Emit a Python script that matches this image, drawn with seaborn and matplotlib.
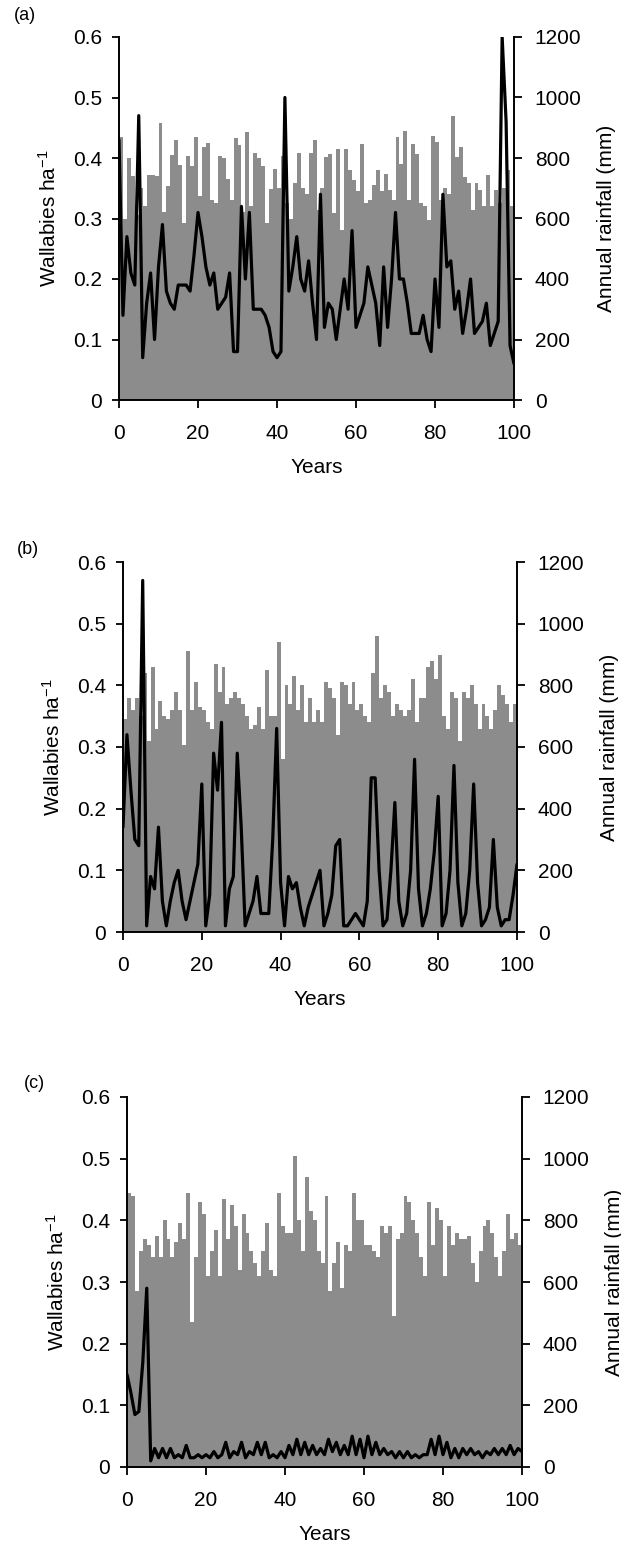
import numpy as np
import pandas as pd
import matplotlib
matplotlib.use("Agg")
import matplotlib.pyplot as plt
from matplotlib.ticker import FuncFormatter
import seaborn as sns

sns.set_style("ticks")
plt.rcParams["font.family"] = ["Liberation Sans", "DejaVu Sans"]
plt.rcParams["mathtext.fontset"] = "custom"
plt.rcParams["mathtext.rm"] = "Liberation Sans"
plt.rcParams["mathtext.it"] = "Liberation Sans"
plt.rcParams["mathtext.default"] = "regular"
for k in ["text.color", "axes.labelcolor", "xtick.color", "ytick.color", "axes.edgecolor"]:
    plt.rcParams[k] = "black"

# ---------------- data ----------------
years_line = list(range(0, 101))
years_rain = list(range(0, 100))

wall_a = [0.43, 0.14, 0.27, 0.21, 0.19, 0.47, 0.07, 0.16, 0.21, 0.10,
          0.22, 0.29, 0.18, 0.16, 0.15, 0.19, 0.19, 0.19, 0.18, 0.24,
          0.31, 0.27, 0.22, 0.19, 0.21, 0.15, 0.16, 0.17, 0.21, 0.08,
          0.08, 0.32, 0.20, 0.31, 0.15, 0.15, 0.15, 0.14, 0.12, 0.08,
          0.07, 0.08, 0.50, 0.18, 0.22, 0.27, 0.20, 0.18, 0.23, 0.16,
          0.10, 0.34, 0.12, 0.16, 0.15, 0.10, 0.15, 0.20, 0.15, 0.28,
          0.12, 0.14, 0.16, 0.22, 0.19, 0.16, 0.09, 0.22, 0.12, 0.20,
          0.31, 0.20, 0.20, 0.16, 0.11, 0.11, 0.11, 0.14, 0.10, 0.08,
          0.20, 0.12, 0.34, 0.22, 0.23, 0.15, 0.18, 0.11, 0.15, 0.20,
          0.11, 0.12, 0.13, 0.16, 0.09, 0.11, 0.13, 0.60, 0.46, 0.09,
          0.06]
rain_a = [870, 600, 800, 740, 610, 700, 640, 745, 745, 740,
          915, 620, 707, 811, 860, 778, 586, 805, 773, 871,
          674, 838, 849, 660, 650, 805, 800, 729, 660, 866,
          844, 620, 887, 640, 816, 800, 773, 586, 696, 762,
          700, 805, 650, 597, 718, 816, 700, 680, 816, 860,
          629, 700, 803, 814, 618, 830, 563, 830, 759, 727,
          690, 846, 651, 660, 710, 759, 690, 748, 694, 660,
          868, 781, 890, 661, 846, 814, 651, 640, 596, 874,
          852, 660, 700, 680, 939, 803, 836, 738, 716, 629,
          716, 694, 640, 743, 640, 694, 650, 700, 760, 640]

wall_b = [0.17, 0.32, 0.23, 0.15, 0.14, 0.57, 0.01, 0.09, 0.07, 0.17,
          0.05, 0.01, 0.05, 0.08, 0.10, 0.05, 0.02, 0.05, 0.08, 0.11,
          0.24, 0.01, 0.06, 0.29, 0.23, 0.34, 0.01, 0.07, 0.09, 0.29,
          0.17, 0.01, 0.03, 0.05, 0.09, 0.03, 0.03, 0.03, 0.15, 0.33,
          0.08, 0.01, 0.09, 0.07, 0.08, 0.04, 0.01, 0.04, 0.06, 0.08,
          0.10, 0.01, 0.03, 0.06, 0.14, 0.15, 0.01, 0.01, 0.02, 0.03,
          0.02, 0.01, 0.05, 0.25, 0.25, 0.10, 0.01, 0.02, 0.10, 0.21,
          0.05, 0.01, 0.03, 0.10, 0.28, 0.07, 0.01, 0.03, 0.07, 0.13,
          0.22, 0.01, 0.03, 0.10, 0.27, 0.08, 0.01, 0.03, 0.10, 0.24,
          0.08, 0.01, 0.02, 0.04, 0.15, 0.04, 0.01, 0.02, 0.02, 0.06,
          0.11]
rain_b = [690, 760, 720, 760, 700, 840, 620, 860, 660, 750,
          700, 690, 720, 780, 720, 605, 910, 720, 810, 730,
          720, 680, 660, 870, 780, 860, 740, 760, 780, 760,
          740, 700, 660, 670, 730, 660, 850, 700, 700, 940,
          560, 800, 740, 830, 720, 800, 680, 760, 680, 720,
          680, 810, 790, 760, 640, 810, 800, 740, 810, 720,
          740, 700, 680, 840, 960, 760, 800, 780, 700, 740,
          720, 700, 720, 820, 680, 760, 760, 860, 880, 820,
          900, 700, 660, 780, 760, 620, 780, 760, 800, 740,
          660, 740, 700, 660, 720, 800, 770, 740, 680, 740]

wall_c = [0.15, 0.12, 0.085, 0.09, 0.17, 0.29, 0.01, 0.03, 0.015, 0.03,
          0.015, 0.03, 0.015, 0.02, 0.015, 0.035, 0.015, 0.015, 0.02, 0.015,
          0.02, 0.015, 0.025, 0.015, 0.02, 0.04, 0.015, 0.025, 0.02, 0.04,
          0.015, 0.025, 0.02, 0.04, 0.02, 0.04, 0.015, 0.02, 0.015, 0.025,
          0.015, 0.035, 0.02, 0.045, 0.02, 0.04, 0.02, 0.035, 0.02, 0.03,
          0.02, 0.045, 0.025, 0.04, 0.02, 0.035, 0.02, 0.05, 0.02, 0.045,
          0.015, 0.05, 0.02, 0.04, 0.02, 0.03, 0.02, 0.025, 0.015, 0.025,
          0.015, 0.025, 0.015, 0.02, 0.015, 0.02, 0.02, 0.045, 0.02, 0.05,
          0.02, 0.04, 0.015, 0.03, 0.015, 0.03, 0.02, 0.03, 0.02, 0.025,
          0.015, 0.025, 0.02, 0.03, 0.02, 0.03, 0.02, 0.035, 0.02, 0.03,
          0.025]
rain_c = [890, 880, 570, 700, 740, 720, 680, 750, 680, 800,
          740, 680, 730, 790, 740, 890, 470, 680, 860, 820,
          620, 700, 770, 620, 870, 740, 850, 780, 640, 820,
          760, 700, 660, 620, 700, 790, 640, 620, 890, 780,
          760, 760, 1010, 800, 700, 940, 830, 800, 700, 660,
          880, 570, 660, 730, 580, 720, 700, 890, 800, 800,
          720, 720, 700, 680, 780, 760, 780, 490, 740, 760,
          880, 860, 800, 760, 680, 620, 860, 720, 840, 800,
          620, 780, 720, 760, 740, 740, 750, 660, 600, 700,
          780, 800, 760, 680, 620, 700, 820, 740, 760, 720]

panel_labels = ["(a)", "(b)", "(c)"]
x_ticks = [0, 20, 40, 60, 80, 100]
left_ticks = [0, 0.1, 0.2, 0.3, 0.4, 0.5, 0.6]
right_ticks = [0, 200, 400, 600, 800, 1000, 1200]

# ---------------- layout (pixels of a 621 x 1550 canvas) ----------------
W, H = 621, 1550
# left, right, top, bottom of each axes; label x, y
boxes = [(119, 514, 37, 400, 25, 15),
         (123, 517, 562, 932, 28, 550),
         (127, 522, 1097, 1467, 34, 1084)]

BAR = "#8c8c8c"
FS = 15

fig = plt.figure(figsize=(W / 100, H / 100), dpi=100)

for lab, wall, rain, (l, r, t, b, lx, ly) in zip(
        panel_labels, [wall_a, wall_b, wall_c], [rain_a, rain_b, rain_c], boxes):
    ax = fig.add_axes([l / W, 1 - b / H, (r - l) / W, (b - t) / H])
    ax2 = ax.twinx()

    rain_df = pd.DataFrame({"year": years_rain, "rain": rain})
    line_df = pd.DataFrame({"year": years_line, "wall": wall})

    sns.histplot(data=rain_df, x="year", weights="rain", binwidth=1, binrange=(0, 100),
                 element="step", fill=True, color=BAR, alpha=1,
                 linewidth=0, ax=ax2)
    sns.lineplot(data=line_df, x="year", y="wall", color="black", linewidth=2.3, ax=ax)

    ax.set_zorder(ax2.get_zorder() + 1)
    ax.patch.set_visible(False)

    ax.set_xlim(0, 100)
    ax2.set_xlim(0, 100)
    ax.set_ylim(0, 0.6)
    ax2.set_ylim(0, 1200)

    ax.set_xticks(x_ticks)
    ax.set_yticks(left_ticks)
    ax2.set_yticks(right_ticks)
    ax.yaxis.set_major_formatter(FuncFormatter(lambda v, p: "0" if v == 0 else f"{v:.1f}"))

    for s in ["top", "right"]:
        ax.spines[s].set_visible(False)
    for s in ["top", "left", "bottom"]:
        ax2.spines[s].set_visible(False)
    for s in ["left", "bottom"]:
        ax.spines[s].set_linewidth(1.4)
    ax2.spines["right"].set_linewidth(1.4)

    ax.tick_params(axis="y", direction="out", length=5, width=1.3, pad=7, labelsize=FS)
    ax.tick_params(axis="x", direction="out", length=6, width=1.3, pad=11, labelsize=FS)
    ax2.tick_params(axis="y", direction="out", length=6, width=1.3, pad=9, labelsize=FS)

    ax.set_xlabel("Years", fontsize=FS, labelpad=11)
    ax.set_ylabel("Wallabies ha$^{-1}$", fontsize=FS, labelpad=10)
    ax2.set_ylabel("Annual rainfall (mm)", fontsize=FS, labelpad=11)

    fig.text(lx / W, 1 - ly / H, lab, fontsize=13, ha="center", va="center")

fig.savefig("out.png", dpi=100)
